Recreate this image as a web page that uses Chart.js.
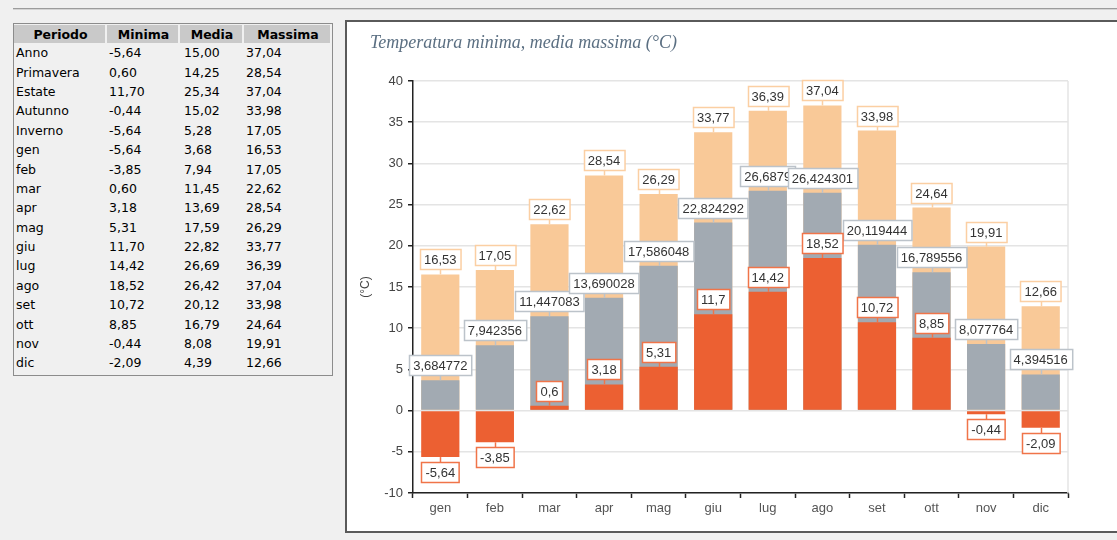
<!DOCTYPE html>
<html>
<head>
<meta charset="utf-8">
<script src="https://cdn.jsdelivr.net/npm/chart.js@4.4.1/dist/chart.umd.min.js"></script>
<style>
  html, body { margin: 0; padding: 0; background: #f0f0f0; overflow: hidden; }
  body { width: 1117px; height: 540px; position: relative; font-family: "DejaVu Sans", Verdana, sans-serif; }
  #topline { position: absolute; left: 13px; top: 8px; width: 1110px; height: 1px; background: #9c9c9c; border-bottom: 1px solid #d4d4d4; }
  #tab { position: absolute; left: 13px; top: 23px; width: 320px; height: 353px; box-sizing: border-box; border: 1px solid #8c8c8c; }
  #tab table { position: absolute; left: 0; top: 1px; width: 318px; table-layout: fixed; border-collapse: separate; border-spacing: 0; font-size: 12.5px; color: #000; }
  #tab th { height: 18px; padding: 0; background: #c9c9c9; box-shadow: inset -2px 0 0 #f0f0f0; font-weight: bold; text-align: center; }
  #tab td { height: 19.4px; padding: 0 0 0 2px; white-space: nowrap; }
  #tab td:nth-child(3) { padding-left: 4px; }
  #panel { position: absolute; left: 345px; top: 20px; width: 800px; height: 509px; border: 2px solid #5a5a5a; background: #fff; }
  #title { position: absolute; left: 23px; top: 10px; font: italic 18px "Liberation Serif", serif; color: #5b6f82; }
  #chart { position: absolute; left: 0; top: 0; }
</style>
</head>
<body>
<div id="topline"></div>
<div id="tab"><table id="tabella"></table></div>
<div id="panel">
  <canvas id="chart" width="770" height="509"></canvas>
  <div id="title">Temperatura minima, media massima (°C)</div>
</div>
<script>
const mesi = ["gen", "feb", "mar", "apr", "mag", "giu", "lug", "ago", "set", "ott", "nov", "dic"];
const minima = [-5.64, -3.85, 0.6, 3.18, 5.31, 11.7, 14.42, 18.52, 10.72, 8.85, -0.44, -2.09];
const media = [3.684772, 7.942356, 11.447083, 13.690028, 17.586048, 22.824292, 26.6879, 26.424301, 20.119444, 16.789556, 8.077764, 4.394516];
const massima = [16.53, 17.05, 22.62, 28.54, 26.29, 33.77, 36.39, 37.04, 33.98, 24.64, 19.91, 12.66];

// riepilogo annuale e stagionale
const periodi = ["Anno", "Primavera", "Estate", "Autunno", "Inverno"];
const periodiMin = [-5.64, 0.6, 11.7, -0.44, -5.64];
const periodiMed = [15.0, 14.25, 25.34, 15.02, 5.28];
const periodiMax = [37.04, 28.54, 37.04, 33.98, 17.05];

const yTicks = { min: -10, max: 40, step: 5 };

const colMin = "#ec6032", colMed = "#a2aab2", colMax = "#f9c998";
const bordoMin = "#f07449", bordoMed = "#bcc3ca", bordoMax = "#fbcfa3";

function fmt2(v) { return v.toFixed(2).replace(".", ","); }
function fmtLabel(v) { return String(v).replace(".", ","); }

// tabella a sinistra
const tab = document.getElementById("tabella");
let html = '<colgroup><col style="width:93px"><col style="width:73px"><col style="width:64px"><col style="width:88px"></colgroup>';
html += "<tr><th>Periodo</th><th>Minima</th><th>Media</th><th>Massima</th></tr>";
const nomi = periodi.concat(mesi);
const tMin = periodiMin.concat(minima);
const tMed = periodiMed.concat(media);
const tMax = periodiMax.concat(massima);
for (let i = 0; i < nomi.length; i++) {
  html += "<tr><td>" + nomi[i] + "</td><td>" + fmt2(tMin[i]) + "</td><td>" + fmt2(tMed[i]) + "</td><td>" + fmt2(tMax[i]) + "</td></tr>";
}
tab.innerHTML = html;

// etichette a riquadro sopra/sotto le barre
const etichette = {
  id: "etichette",
  beforeDatasetsDraw(chart) {
    const a = chart.chartArea, ctx = chart.ctx;
    ctx.save();
    ctx.strokeStyle = "#e4e4e4";
    ctx.lineWidth = 1.5;
    ctx.beginPath();
    ctx.moveTo(a.right, a.top);
    ctx.lineTo(a.right, a.bottom);
    ctx.stroke();
    ctx.restore();
  },
  afterDatasetsDraw(chart) {
    const ctx = chart.ctx;
    ctx.save();
    ctx.font = '13px "Liberation Sans", Arial, sans-serif';
    ctx.textAlign = "center";
    ctx.textBaseline = "middle";
    const ordine = [2, 1, 0];
    ordine.forEach(function (d) {
      const ds = chart.data.datasets[d];
      const meta = chart.getDatasetMeta(d);
      meta.data.forEach(function (bar, i) {
        const v = ds.data[i];
        const txt = fmtLabel(v);
        const w = ctx.measureText(txt).width + 8;
        const h = 20, gap = 5;
        const x0 = Math.round(bar.x - w / 2) + 0.5;
        let y0, c0, c1;
        if (v >= 0) {
          y0 = Math.round(bar.y - gap - h) + 0.5;
          c0 = y0 + h; c1 = bar.y;
        } else {
          y0 = Math.round(bar.y + gap) + 0.5;
          c0 = bar.y; c1 = y0;
        }
        ctx.strokeStyle = ds.labelBorder;
        ctx.lineWidth = 1.5;
        ctx.beginPath();
        ctx.moveTo(Math.round(bar.x) + 0.5, c0);
        ctx.lineTo(Math.round(bar.x) + 0.5, c1);
        ctx.stroke();
        ctx.fillStyle = "#fff";
        ctx.fillRect(x0, y0, w, h);
        ctx.strokeRect(x0, y0, w, h);
        ctx.fillStyle = "#333";
        ctx.fillText(txt, bar.x, y0 + h / 2 + 1);
      });
    });
    ctx.restore();
  }
};

const ctx = document.getElementById("chart").getContext("2d");
new Chart(ctx, {
  type: "bar",
  data: {
    labels: mesi,
    datasets: [
      { label: "Minima", data: minima, backgroundColor: colMin, labelBorder: bordoMin },
      { label: "Media", data: media, backgroundColor: colMed, labelBorder: bordoMed },
      { label: "Massima", data: massima, backgroundColor: colMax, labelBorder: bordoMax }
    ]
  },
  options: {
    responsive: false,
    animation: false,
    datasets: { bar: { grouped: false, barPercentage: 0.7, categoryPercentage: 1.0 } },
    layout: { padding: { left: 0, right: 49, top: 59, bottom: 0 } },
    plugins: {
      legend: { display: false },
      title: { display: false },
      tooltip: { enabled: false }
    },
    scales: {
      x: {
        grid: { drawOnChartArea: false, tickLength: 5, tickColor: "#222", tickWidth: 1.5 },
        border: { color: "#222", width: 1.5 },
        ticks: { color: "#555", font: { family: "Liberation Sans", size: 13 }, padding: 3 },
        afterFit(scale) { scale.height = 38; }
      },
      y: {
        min: yTicks.min,
        max: yTicks.max,
        grid: { color: "#e4e4e4", lineWidth: 1.5, tickLength: 5, tickColor: "#222", tickWidth: 1.5 },
        border: { color: "#222", width: 1.5 },
        ticks: { stepSize: yTicks.step, color: "#444", font: { family: "Liberation Sans", size: 13 }, padding: 5 },
        title: { display: true, text: "(°C)", color: "#444", font: { family: "Liberation Sans", size: 12 }, padding: { top: 11, bottom: 0 } },
        afterFit(scale) { scale.width = 66; }
      }
    }
  },
  plugins: [etichette]
});
</script>
</body>
</html>
